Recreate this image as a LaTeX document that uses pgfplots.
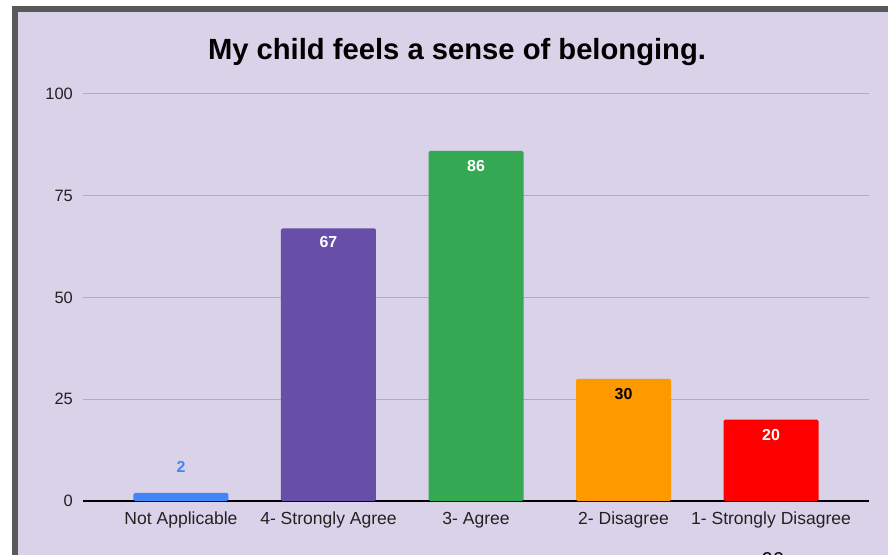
\documentclass[border=0pt]{standalone}
\usepackage{pgfplots}
\pgfplotsset{compat=1.18}
\usepackage{fontspec}
\setmainfont{Liberation Sans}
\definecolor{bg}{HTML}{D9D2E9}
\definecolor{frame}{HTML}{595959}
\definecolor{gridc}{HTML}{B3A9C6}
\definecolor{cblue}{HTML}{4285F4}
\definecolor{cpurple}{HTML}{674EA7}
\definecolor{cgreen}{HTML}{34A853}
\definecolor{corange}{HTML}{FF9900}
\definecolor{cred}{HTML}{FF0000}
\definecolor{txt}{HTML}{222222}
\begin{document}
\begin{tikzpicture}
\useasboundingbox (0,0) rectangle (888bp,555bp);
\clip (0,0) rectangle (888bp,555bp);
\fill[white] (0,0) rectangle (888bp,555bp);
\fill[frame] (12bp,0) rectangle (888bp,549bp);
\fill[bg] (18bp,0) rectangle (888bp,543bp);
\node[font=\bfseries\fontsize{29.3}{33}\selectfont] at (457bp,503bp) {My child feels a sense of belonging.};
\node[font=\fontsize{20}{22}\selectfont, text=black] at (773bp,-5bp) {90};
\begin{axis}[
  at={(83bp,54bp)}, anchor=south west,
  scale only axis, width=786bp, height=407bp,
  xmin=-0.664, xmax=4.664, ymin=0, ymax=100,
  ybar, bar width=95bp, bar shift=0pt,
  separate axis lines,
  axis x line*=bottom, axis y line*=left,
  y axis line style={draw=none},
  x axis line style={draw=black, line width=1.3bp, -},
  major tick length=0pt,
  ytick={0,25,50,75,100},
  ymajorgrids, grid style={draw=gridc, line width=1bp},
  xtick={0,1,2,3,4},
  xticklabels={Not Applicable,4- Strongly Agree,3- Agree,2- Disagree,1- Strongly Disagree},
  /pgf/number format/assume math mode=true,
  tick label style={text=txt},
  yticklabel style={font=\fontsize{16.5}{18}\selectfont, anchor=east, inner sep=0pt, xshift=-10bp},
  xticklabel style={font=\fontsize{17.6}{20}\selectfont, anchor=north, inner sep=0pt, yshift=-11bp},
  nodes near coords,
  every node near coord/.append style={font=\bfseries\fontsize{16}{18}\selectfont, anchor=center},
  clip=false,
]
\addplot[fill=cblue, draw=none, rounded corners=1.5bp,
  every node near coord/.append style={text=cblue, yshift=26bp}] coordinates {(0,2)};
\addplot[fill=cpurple, draw=none, rounded corners=1.5bp,
  every node near coord/.append style={text=white, yshift=-14bp}] coordinates {(1,67)};
\addplot[fill=cgreen, draw=none, rounded corners=1.5bp,
  every node near coord/.append style={text=white, yshift=-15bp}] coordinates {(2,86)};
\addplot[fill=corange, draw=none, rounded corners=1.5bp,
  every node near coord/.append style={text=black, yshift=-15bp}] coordinates {(3,30)};
\addplot[fill=cred, draw=none, rounded corners=1.5bp,
  every node near coord/.append style={text=white, yshift=-15bp}] coordinates {(4,20)};
\end{axis}
\end{tikzpicture}
\end{document}
